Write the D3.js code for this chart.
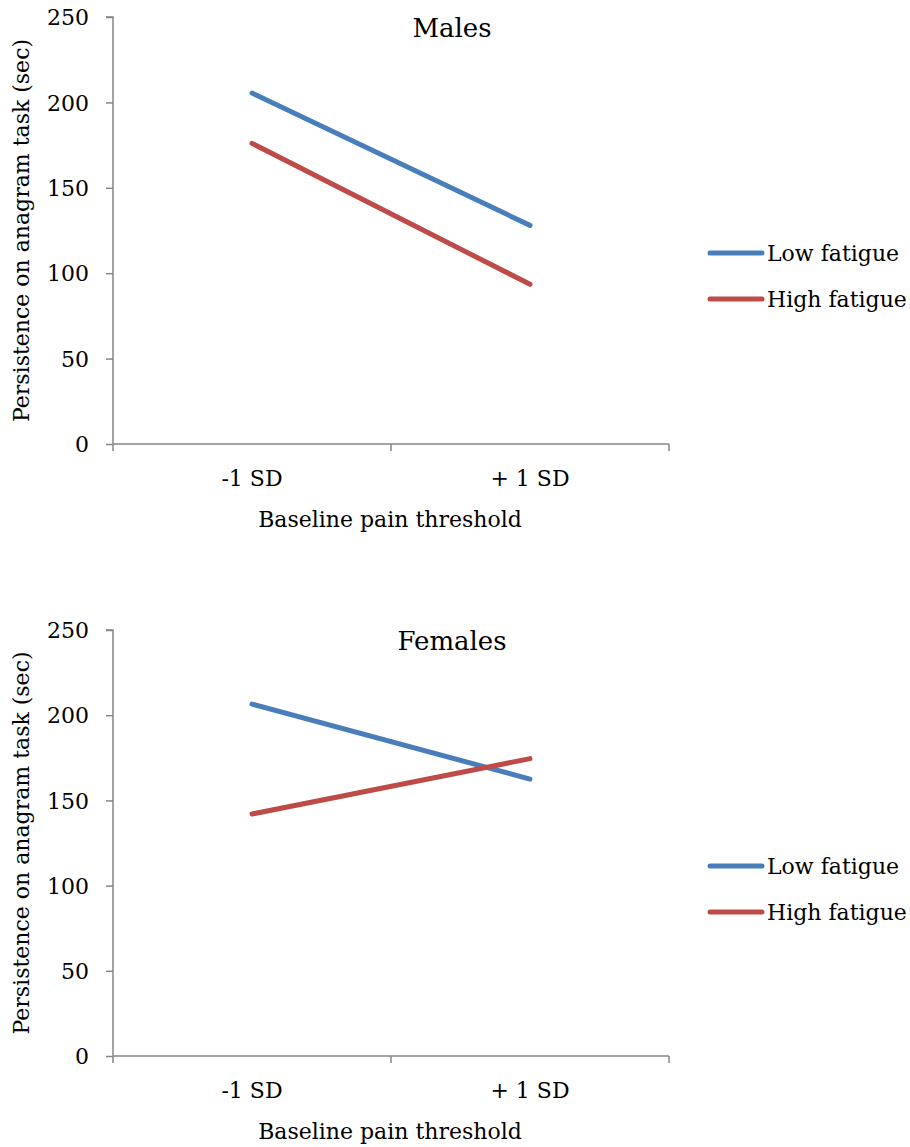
<!DOCTYPE html>
<html>
<head>
<meta charset="utf-8">
<script src="https://cdn.jsdelivr.net/npm/d3@7"></script>
<style>
  html, body { margin: 0; padding: 0; background: #fff; }
  svg { display: block; }
  text { font-family: "DejaVu Serif", "Liberation Serif", serif; fill: #000; }
</style>
</head>
<body>
<svg id="chart" width="910" height="1147"></svg>
<script>
const categories = ["-1 SD", "+ 1 SD"];
const seriesNames = ["Low fatigue", "High fatigue"];
const seriesColors = ["#4a7ebb", "#be4b48"];
const yTicks = [0, 50, 100, 150, 200, 250];
const panelTitles = ["Males", "Females"];
const malesLow = [205.5, 128];
const malesHigh = [176, 93.5];
const femalesLow = [206.5, 162.5];
const femalesHigh = [142, 174.5];
const xAxisTitle = "Baseline pain threshold";
const yAxisTitle = "Persistence on anagram task (sec)";

const panels = [
  { title: panelTitles[0], series: [malesLow, malesHigh], top: 17, bottom: 444 },
  { title: panelTitles[1], series: [femalesLow, femalesHigh], top: 630, bottom: 1056 }
];

const FONT = '"DejaVu Serif", serif';
const FS = "22px";
const svg = d3.select("#chart");
const left = 113, right = 669;
const axisColor = "#868686";

const x = d3.scaleBand().domain(categories).range([left, right]);

panels.forEach(p => {
  const g = svg.append("g");
  const y = d3.scaleLinear().domain([0, 250]).range([p.bottom, p.top]);

  // Y axis
  const yAxis = g.append("g")
    .attr("transform", `translate(${left},0)`)
    .call(d3.axisLeft(y).tickValues(yTicks).tickSize(7).tickPadding(17).tickFormat(d3.format("d")));
  yAxis.select(".domain").attr("stroke", axisColor).attr("stroke-width", 1.5).attr("d", `M-7,${p.top}H0V${p.bottom}`);
  yAxis.selectAll(".tick line").attr("stroke", axisColor).attr("stroke-width", 1.5);
  yAxis.selectAll(".tick text").style("font-family", FONT).style("font-size", FS).attr("fill", "#000").attr("dy", "0.35em");

  // X axis
  const xAxis = g.append("g")
    .attr("transform", `translate(0,${p.bottom})`)
    .call(d3.axisBottom(x).tickSize(0).tickPadding(26));
  xAxis.select(".domain").attr("stroke", axisColor).attr("stroke-width", 1.5).attr("d", `M${left},0H${right}`);
  xAxis.selectAll(".tick text").style("font-family", FONT).style("font-size", FS).attr("fill", "#000");
  // boundary ticks
  const bounds = [left].concat(categories.map(c => x(c) + x.bandwidth()));
  g.selectAll(".xb").data(bounds).enter().append("line")
    .attr("x1", d => d).attr("x2", d => d)
    .attr("y1", p.bottom).attr("y2", p.bottom + 7)
    .attr("stroke", axisColor).attr("stroke-width", 1.5);

  // Title
  g.append("text").attr("x", 452).attr("y", p.top + 20).attr("text-anchor", "middle")
    .style("font-size", "26px").text(p.title);

  // Axis titles
  g.append("text").attr("x", (left + right) / 2 - 1).attr("y", p.bottom + 83).attr("text-anchor", "middle")
    .style("font-size", FS).text(xAxisTitle);
  g.append("text")
    .attr("transform", `translate(29,${(p.top + p.bottom) / 2}) rotate(-90)`)
    .attr("text-anchor", "middle").style("font-size", FS).text(yAxisTitle);

  // Lines
  const line = d3.line().x((d, i) => x(categories[i]) + x.bandwidth() / 2).y(d => y(d));
  p.series.forEach((s, i) => {
    g.append("path").datum(s).attr("d", line)
      .attr("fill", "none").attr("stroke", seriesColors[i]).attr("stroke-width", 5)
      .attr("stroke-linecap", "round");
  });

  // Legend
  const legTop = p.top + 236;
  seriesNames.forEach((n, i) => {
    const ly = legTop + i * 46;
    g.append("line").attr("x1", 710).attr("x2", 762).attr("y1", ly).attr("y2", ly)
      .attr("stroke", seriesColors[i]).attr("stroke-width", 5).attr("stroke-linecap", "round");
    g.append("text").attr("x", 767).attr("y", ly + 8).style("font-size", FS).text(n);
  });
});
</script>
</body>
</html>
